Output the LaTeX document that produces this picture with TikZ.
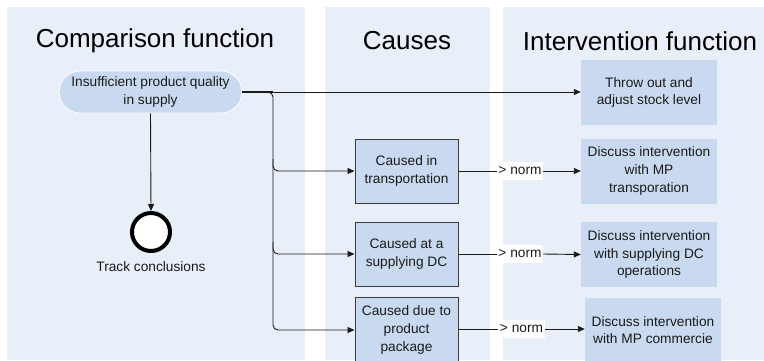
\documentclass[tikz,border=0pt]{standalone}
\usepackage{fontspec}
\setmainfont{Liberation Sans}
\usetikzlibrary{arrows.meta,calc}

\definecolor{lanebg}{RGB}{232,239,248}
\definecolor{boxfill}{RGB}{201,218,240}
\definecolor{ink}{RGB}{26,26,26}

\tikzset{
  lane/.style={fill=lanebg, draw=none},
  lanetitle/.style={font=\fontsize{26}{30}\selectfont, text=black, anchor=center},
  body/.style={font=\fontsize{13.7}{17.8}\selectfont, text=ink, align=center},
  startbox/.style={body, draw=white, line width=0.8pt, fill=boxfill,
    rounded corners=21pt, minimum width=183pt, minimum height=42pt, inner sep=0pt},
  causebox/.style={body, draw=ink!85, line width=1pt, fill=boxfill,
    minimum width=103pt, minimum height=64pt, inner sep=0pt},
  actbox/.style={body, draw=none, fill=boxfill,
    minimum width=136pt, minimum height=65pt, inner sep=0pt},
  normlbl/.style={body, fill=white, inner xsep=1.5pt, inner ysep=2pt,
    minimum width=46pt, minimum height=18pt},
  endevent/.style={circle, draw=black, line width=4pt, fill=white,
    minimum size=38pt, inner sep=0pt},
  flow/.style={draw=ink, line width=0.9pt, -{Triangle[length=7pt,width=6pt]}},
  plain/.style={draw=ink, line width=0.9pt},
}

\begin{document}
\begin{tikzpicture}[x=1pt, y=-1pt]
  \useasboundingbox (0,0) rectangle (764,360);
  \clip (0,0) rectangle (764,360);

  % swimlanes
  \fill[lane] (7,7) rectangle (305,360);
  \fill[lane] (325,7) rectangle (490,360);
  \fill[lane] (503,7) rectangle (764,360);

  \node[lanetitle] (t1) at (155,41) {Comparison function};
  \node[lanetitle] (t2) at (407,41) {Causes};
  \node[lanetitle] (t3) at (640,41) {Intervention function};

  % comparison lane
  \node[startbox] (start) at (150.5,92) {Insufficient product quality\\in supply};
  \node[endevent] (endev) at (151,232) {};
  \node[body] (endlbl) at (151,267) {Track conclusions};

  % causes
  \node[causebox] (c1) at (406.5,171) {Caused in\\transportation};
  \node[causebox] (c2) at (406.5,254) {Caused at a\\supplying DC};
  \node[causebox, minimum height=66pt] (c3) at (406.5,330) {Caused due to\\product\\package};

  % interventions
  \node[actbox] (a0) at (649,92.5) {Throw out and\\adjust stock level};
  \node[actbox] (a1) at (649,171) {Discuss intervention\\with MP\\transporation};
  \node[actbox] (a2) at (649,254.5) {Discuss intervention\\with supplying DC\\operations};
  \node[actbox] (a3) at (653,330) {Discuss intervention\\with MP commercie};

  % norm conditions
  \node[normlbl] (n1) at (520,171) {> norm};
  \node[normlbl] (n2) at (520,254) {> norm};
  \node[normlbl] (n3) at (521.5,329) {> norm};

  % branching bus
  \coordinate (busx) at (273,0);
  \coordinate (b1) at ($(busx |- c1.west)+(0,-12)$);
  \coordinate (b2) at ($(busx |- c2.west)+(0,-12)$);
  \coordinate (b3) at (busx |- c3.west);

  % connectors
  \draw[flow] (start.south) -- (endev.north);
  \draw[flow] (start.east) -- (a0.west |- start.east);
  \draw[flow, rounded corners=5pt] (start.east) -| (b3) -- (c3.west);
  \draw[plain, line width=1.6pt] (start.east) -- (busx |- start.east);
  \draw[flow, rounded corners=5pt] (b1) |- (c1.west);
  \draw[flow, rounded corners=5pt] (b2) |- (c2.west);

  \draw[plain] (c1.east) -- (n1.west);
  \draw[plain] (c2.east) -- (n2.west);
  \draw[plain] (c3.east |- n3.west) -- (n3.west);
  \draw[flow] (n1.east) -- (a1.west);
  \draw[flow] (n2.east) -- (a2.west);
  \draw[flow] (n3.east) -- (a3.west |- n3.east);
\end{tikzpicture}
\end{document}
